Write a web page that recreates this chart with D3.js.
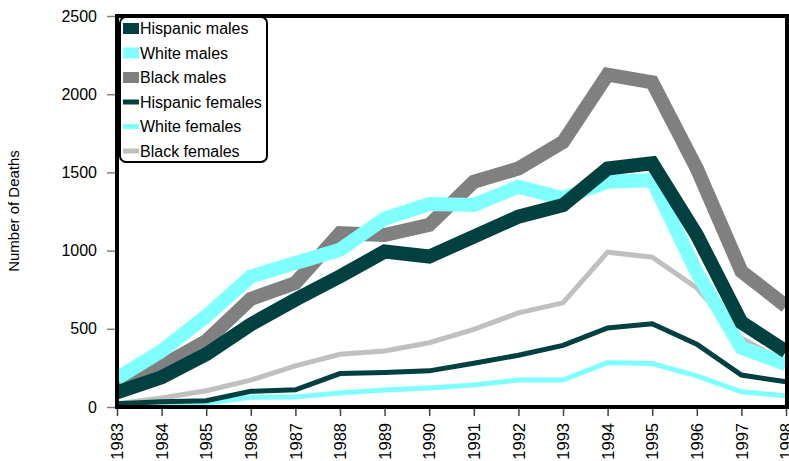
<!DOCTYPE html>
<html><head><meta charset="utf-8">
<script src="https://cdn.jsdelivr.net/npm/d3@7"></script>
<style>body{margin:0;background:#fff;} svg{display:block;} text{font-family:"Liberation Sans",Arial,sans-serif;}</style>
</head><body>
<svg id="c" width="789" height="461"></svg>
<script>
const years = [1983,1984,1985,1986,1987,1988,1989,1990,1991,1992,1993,1994,1995,1996,1997,1998];
const hispanicMales   = [93,190,337,528,687,835,994,962,1090,1217,1291,1525,1558,1100,541,356];
const whiteMales      = [184,358,581,835,921,1005,1205,1298,1291,1408,1335,1440,1450,860,378,274];
const blackMales      = [110,263,422,691,793,1111,1100,1164,1440,1525,1694,2125,2076,1525,867,645];
const hispanicFemales = [20,34,40,100,110,214,220,231,280,331,394,505,532,401,204,161];
const whiteFemales    = [5,15,24,62,64,89,108,121,140,172,172,284,278,199,97,72];
const blackFemales    = [20,57,104,172,263,337,358,411,496,602,666,990,958,761,440,285];
const yTicks = [0,500,1000,1500,2000,2500];
const seriesNames = ["Hispanic males","White males","Black males","Hispanic females","White females","Black females"];

const series = [
  {name:seriesNames[0], values:hispanicMales,   color:"#004040", w:14},
  {name:seriesNames[1], values:whiteMales,      color:"#80FFFF", w:14},
  {name:seriesNames[2], values:blackMales,      color:"#808080", w:14},
  {name:seriesNames[3], values:hispanicFemales, color:"#004040", w:5},
  {name:seriesNames[4], values:whiteFemales,    color:"#80FFFF", w:5},
  {name:seriesNames[5], values:blackFemales,    color:"#C0C0C0", w:5}
];

const FONT = "Liberation Sans, Arial, sans-serif";
const svg = d3.select("#c");
const L=117, R=786, T=16, B=407;
const x = d3.scalePoint().domain(years).range([L,R]);
const y = d3.scaleLinear().domain([0,2500]).range([B,T]);

svg.append("defs").append("clipPath").attr("id","clip")
  .append("rect").attr("x",L).attr("y",T).attr("width",R-L+1).attr("height",B-T);

const line = d3.line().x((d,i)=>x(years[i])).y(d=>y(d));
const g = svg.append("g").attr("clip-path","url(#clip)");
series.slice().reverse().forEach(s=>{
  g.append("path").attr("d",line(s.values)).attr("fill","none")
   .attr("stroke",s.color).attr("stroke-width",s.w)
   .attr("stroke-linejoin","miter").attr("stroke-miterlimit",10);
});

// y axis
const yAxis = d3.axisLeft(y).tickValues(yTicks).tickFormat(d3.format("d")).tickSize(9).tickPadding(10);
const yg = svg.append("g").attr("transform",`translate(${L-1},0)`).call(yAxis);
yg.attr("font-family",FONT);
yg.select(".domain").remove();
yg.selectAll(".tick line").attr("stroke","#808080").attr("stroke-width",1.5);
yg.selectAll(".tick text").attr("font-size",16).attr("fill","#000");

// x axis
const xAxis = d3.axisBottom(x).tickFormat(d3.format("d")).tickSize(8).tickPadding(0);
const xg = svg.append("g").attr("transform",`translate(0,${B+1})`).call(xAxis);
xg.attr("font-family",FONT);
xg.select(".domain").remove();
xg.selectAll(".tick line").attr("stroke","#404040").attr("stroke-width",1.5);
xg.selectAll(".tick text").attr("font-size",16.5).attr("fill","#000")
  .attr("transform","rotate(-90)").attr("text-anchor","end")
  .attr("x",-15).attr("y",0).attr("dy","0.35em");

// frame
svg.append("rect").attr("x",L).attr("y",T).attr("width",R+1-L).attr("height",B-T)
  .attr("fill","none").attr("stroke","#000").attr("stroke-width",4);

// y title
svg.append("text").attr("transform","translate(19,211) rotate(-90)")
  .attr("text-anchor","middle").attr("font-size",15).text("Number of Deaths");

// legend
const lg = svg.append("g");
lg.append("rect").attr("x",120).attr("y",17).attr("width",147).attr("height",145)
  .attr("rx",6).attr("ry",6).attr("fill","#fff").attr("stroke","#000").attr("stroke-width",2);
series.forEach((s,i)=>{
  const cy = 28.5 + i*24.5;
  const h = s.w>10 ? 11 : 5;
  lg.append("rect").attr("x",123).attr("y",cy-h/2).attr("width",16).attr("height",h).attr("fill",s.color);
  lg.append("text").attr("x",140).attr("y",cy+5.5).attr("font-size",16).text(s.name);
});
</script>
</body></html>
